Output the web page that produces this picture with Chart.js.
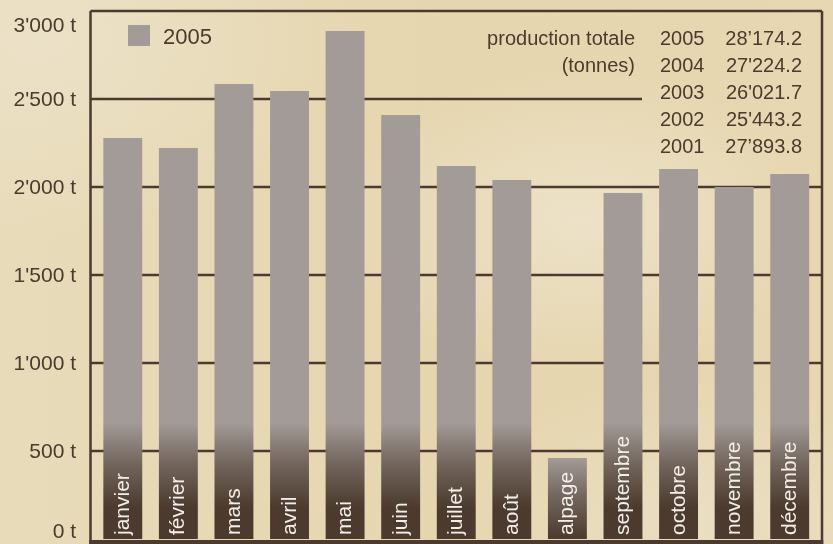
<!DOCTYPE html>
<html>
<head>
<meta charset="utf-8">
<script src="https://cdn.jsdelivr.net/npm/chart.js@4"></script>
<style>
  html, body { margin: 0; padding: 0; }
  body {
    width: 833px; height: 544px; overflow: hidden;
    background:
      radial-gradient(ellipse 240px 150px at 580px 220px, rgba(239,230,208,0.75), rgba(239,230,208,0)),
      radial-gradient(ellipse 300px 200px at 40px 40px, rgba(236,226,200,0.9), rgba(236,226,200,0)),
      radial-gradient(ellipse 260px 140px at 700px 520px, rgba(236,226,202,0.7), rgba(236,226,202,0)),
      linear-gradient(90deg, #e8dbba, #e6d6af 55%, #e7d7b2);
  }
  canvas { display: block; }
</style>
</head>
<body>
<canvas id="chartCanvas" width="833" height="544"></canvas>
<script>
// --- data ---
const months = ["janvier", "février", "mars", "avril", "mai", "juin", "juillet",
                "août", "alpage", "septembre", "octobre", "novembre", "décembre"];
const production2005 = [2278, 2222, 2585, 2545, 2886, 2409, 2119, 2040, 460, 1966, 2102, 2000, 2074];
const seriesName = "2005";
const totalYears = ["2005", "2004", "2003", "2002", "2001"];
const totalValues = ["28’174.2", "27'224.2", "26'021.7", "25'443.2", "27’893.8"];
const totalTitle = ["production totale", "(tonnes)"];
const yTicks = [0, 500, 1000, 1500, 2000, 2500, 3000];

const brown = "#4b3a2d";
const barGrey = "#a39b98";
const FONT = "'Liberation Sans', Arial, sans-serif";

// 3000 -> "3'000 t"
function fmtTick(v) {
    if (v < 1000) return v + " t";
    return Math.floor(v / 1000) + "'" + String(v % 1000).padStart(3, "0") + " t";
}

// grey bar that turns dark brown near the bottom
function barColor(ctx) {
    const chart = ctx.chart;
    if (!chart.chartArea) return barGrey;
    const y = chart.scales.y;
    const top = y.getPixelForValue(ctx.raw);
    const start = Math.max(top, 423);
    const end = Math.min(start + 85, y.bottom);
    const g = chart.ctx.createLinearGradient(0, start, 0, end);
    g.addColorStop(0, barGrey);
    g.addColorStop(0.45, "#75685f");
    g.addColorStop(1, brown);
    return g;
}

// frame, grid lines, ticks, legend, totals block
const decor = {
    id: "decor",
    beforeDatasetsDraw(chart) {
        const c = chart.ctx;
        const y = chart.scales.y;
        const left = chart.chartArea.left - 4.5;
        const right = chart.chartArea.right + 4.5;
        c.save();
        c.strokeStyle = brown;
        c.lineWidth = 2.5;
        yTicks.forEach(v => {
            if (v === 0) return;
            const py = y.getPixelForValue(v);
            // the 2'500 line stops before the totals block
            const end = v === 2500 ? 642 : right;
            c.beginPath();
            c.moveTo(left, py);
            c.lineTo(end, py);
            c.stroke();
        });
        c.beginPath();
        c.moveTo(left, chart.chartArea.top);
        c.lineTo(left, 544);
        c.moveTo(right, chart.chartArea.top);
        c.lineTo(right, 544);
        c.stroke();
        c.restore();
    },
    afterDatasetsDraw(chart) {
        const c = chart.ctx;
        const x = chart.scales.x;
        const y = chart.scales.y;
        const left = chart.chartArea.left - 4.5;
        const right = chart.chartArea.right + 4.5;
        c.save();
        // bottom strip
        c.fillStyle = brown;
        c.fillRect(left - 1.25, y.getPixelForValue(0) + 1, right - left + 2.5, 6);

        // month names inside the bars
        c.fillStyle = "#f3eee8";
        c.font = "21px " + FONT;
        c.textAlign = "left";
        c.textBaseline = "alphabetic";
        months.forEach((m, i) => {
            const cx = x.getPixelForValue(i);
            c.save();
            c.translate(cx + 6, 535);
            c.rotate(-Math.PI / 2);
            c.fillText(m, 0, 0);
            c.restore();
        });

        // y tick labels
        c.fillStyle = brown;
        c.font = "21px " + FONT;
        c.textAlign = "right";
        c.textBaseline = "middle";
        yTicks.forEach(v => {
            let py = y.getPixelForValue(v) + 1;
            if (v === 0) py -= 8;
            if (v === 3000) py += 14;
            c.fillText(fmtTick(v), 76, py);
        });

        // legend
        c.fillStyle = barGrey;
        c.fillRect(128, 25, 22, 21);
        c.fillStyle = brown;
        c.font = "22px " + FONT;
        c.textAlign = "left";
        c.textBaseline = "alphabetic";
        c.fillText(seriesName, 163, 44);

        // totals
        c.font = "20px " + FONT;
        c.textAlign = "right";
        totalTitle.forEach((t, i) => c.fillText(t, 635, 45 + i * 27));
        totalYears.forEach((yr, i) => {
            c.textAlign = "left";
            c.fillText(yr, 660, 45 + i * 27);
            c.textAlign = "right";
            c.fillText(totalValues[i], 802, 45 + i * 27);
        });
        c.restore();
    }
};

const ctx = document.getElementById("chartCanvas");
const myChart = new Chart(ctx, {
    type: "bar",
    data: {
        labels: months,
        datasets: [{
            label: seriesName,
            data: production2005,
            backgroundColor: barColor,
            borderWidth: 0,
            barPercentage: 0.7,
            categoryPercentage: 1
        }]
    },
    options: {
        responsive: false,
        animation: false,
        layout: { padding: { top: 11, bottom: 5, left: 0, right: 15.5 } },
        plugins: { legend: { display: false }, tooltip: { enabled: false } },
        scales: {
            x: { display: false },
            y: {
                min: 0, max: 3000,
                ticks: { display: false, stepSize: 500 },
                grid: { display: false },
                border: { display: false },
                afterFit(scale) {
                    scale.width = 95;
                    scale.paddingTop = 0;
                    scale.paddingBottom = 0;
                }
            }
        }
    },
    plugins: [decor]
});
</script>
</body>
</html>
